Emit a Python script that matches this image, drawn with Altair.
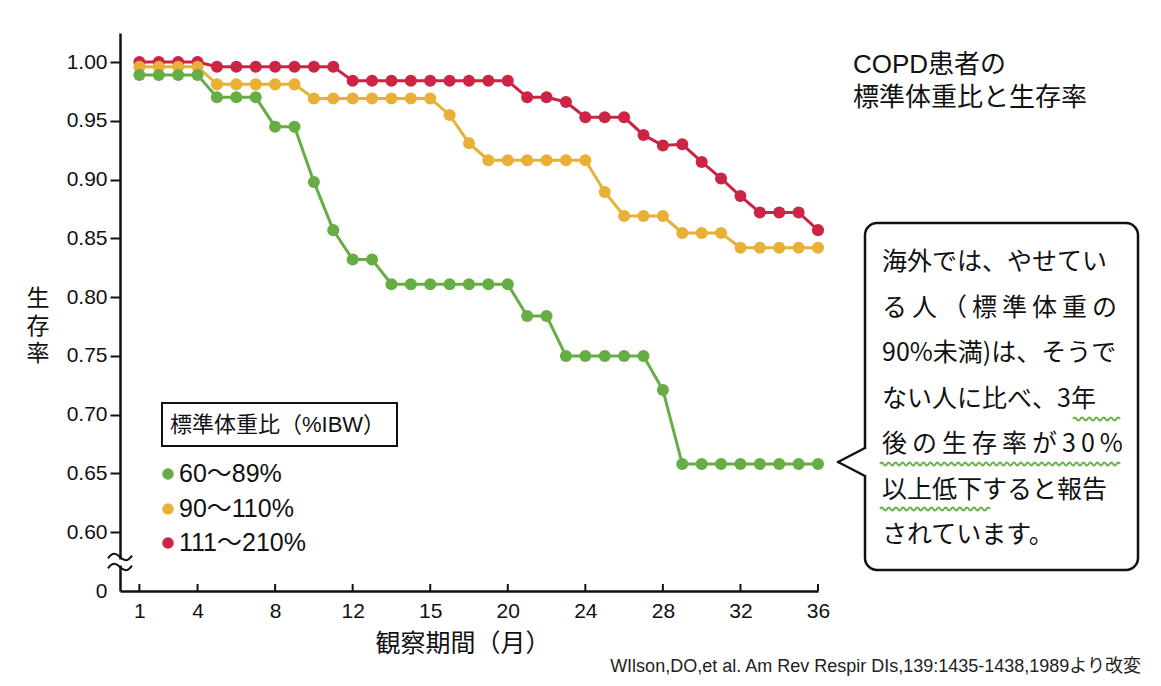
import altair as alt
import pandas as pd

# ---------------- data ----------------
months = list(range(1, 37))
series_names = ["60〜89%", "90〜110%", "111〜210%"]
series_colors = ["#67ad45", "#e8b036", "#cc2445"]

green = [0.989, 0.989, 0.989, 0.989, 0.970, 0.970, 0.970, 0.945, 0.945, 0.898,
         0.857, 0.832, 0.832, 0.811, 0.811, 0.811, 0.811, 0.811, 0.811, 0.811,
         0.784, 0.784, 0.750, 0.750, 0.750, 0.750, 0.750, 0.721, 0.658, 0.658,
         0.658, 0.658, 0.658, 0.658, 0.658, 0.658]
yellow = [0.996, 0.996, 0.996, 0.996, 0.981, 0.981, 0.981, 0.981, 0.981, 0.969,
          0.969, 0.969, 0.969, 0.969, 0.969, 0.969, 0.955, 0.931, 0.9165, 0.9165,
          0.9165, 0.9165, 0.9165, 0.9165, 0.8895, 0.869, 0.869, 0.869, 0.8546, 0.8546,
          0.8546, 0.842, 0.842, 0.842, 0.842, 0.842]
red = [1.000, 1.000, 1.000, 1.000, 0.996, 0.996, 0.996, 0.996, 0.996, 0.996,
       0.996, 0.984, 0.984, 0.984, 0.984, 0.984, 0.984, 0.984, 0.984, 0.984,
       0.970, 0.970, 0.966, 0.953, 0.953, 0.953, 0.938, 0.929, 0.930, 0.915,
       0.901, 0.886, 0.872, 0.872, 0.872, 0.857]

# tick positions (months) and the labels printed at them (the original prints "15" at month 16)
x_tick_pos = [1, 4, 8, 12, 16, 20, 24, 28, 32, 36]
x_tick_labels = ["1", "4", "8", "12", "15", "20", "24", "28", "32", "36"]
y_ticks = [0.55, 0.60, 0.65, 0.70, 0.75, 0.80, 0.85, 0.90, 0.95, 1.00]

title_lines = ["COPD患者の", "標準体重比と生存率"]
x_title = "観察期間（月）"
y_title = ["生", "存", "率"]
legend_title = "標準体重比（%IBW）"
callout_lines = [
    "海外では、やせてい",
    "る\u2009人\u2009（\u2009標\u2009準\u2009体\u2009重\u2009の",
    "90%未満)は、そうで",
    "ない人に比べ、3年",
    "後\u2009の\u2009生\u2009存\u2009率\u2009が\u20093\u20090\u2009%",
    "以上低下すると報告",
    "されています。",
]
source_text = "WIlson,DO,et al. Am Rev Respir DIs,139:1435-1438,1989より改変"

rows = []
for name, vals in [(series_names[2], red), (series_names[1], yellow), (series_names[0], green)]:
    for m, v in zip(months, vals):
        rows.append({"month": m, "survival": v, "group": name})
df = pd.DataFrame(rows)
tick_df = pd.DataFrame({"month": x_tick_pos})
one = pd.DataFrame({"_": [0]})

# ---------------- layout helpers (page px -> plot px) ----------------
OX, OY = 120, 33
W, H = 698, 558


def px(X):
    return X - OX


def py(Y):
    return Y - OY


LATIN = "Liberation Sans, Arial, Noto Sans CJK JP"
CJK = "Noto Sans CJK JP"

x_label_expr = "datum.label"
for p, lab in zip(x_tick_pos, x_tick_labels):
    if str(p) != lab:
        x_label_expr = f"datum.value == {p} ? '{lab}' : (" + x_label_expr + ")"

xscale = alt.Scale(domain=[0, 36], nice=False, zero=False)
yscale = alt.Scale(domain=[0.55, 1.0247], nice=False, zero=False)
cscale = alt.Scale(domain=series_names, range=series_colors)

x_axis = alt.Axis(values=x_tick_pos, labelExpr=x_label_expr, title=None, grid=False, ticks=False,
                  labelFont=LATIN, labelFontSize=21, labelColor="#111",
                  labelPadding=9, labelFlush=False, labelOverlap=False,
                  domainColor="#111", domainWidth=2.5)
y_axis = alt.Axis(values=y_ticks, title=None, grid=False,
                  labelExpr="datum.value < 0.575 ? '0' : format(datum.value, '.2f')",
                  labelFont=LATIN, labelFontSize=21, labelColor="#111",
                  labelPadding=3, tickSize=10, tickWidth=2, tickColor="#111",
                  tickOpacity={"condition": {"test": "datum.value < 0.575", "value": 0}, "value": 1},
                  labelOverlap=False, labelFlush=False,
                  domainColor="#111", domainWidth=2.5)

x_enc = alt.X("month:Q", scale=xscale, axis=x_axis)
y_enc = alt.Y("survival:Q", scale=yscale, axis=y_axis)
c_enc = alt.Color("group:N", scale=cscale, legend=None)

lines = alt.Chart(df).mark_line(strokeWidth=3).encode(
    x=x_enc, y=y_enc, color=c_enc, detail="group:N")
points = alt.Chart(df).mark_circle(size=145, opacity=1).encode(
    x=x_enc, y=y_enc, color=c_enc)
xticks = alt.Chart(tick_df).mark_rule(color="#111", strokeWidth=2).encode(
    x=x_enc, y=alt.value(H), y2=alt.value(H - 7))


def text(s, X, Y, size, font=CJK, align="left", baseline="middle", color="#111", **kw):
    return alt.Chart(one).mark_text(text=s, font=font, fontSize=size, align=align,
                                    baseline=baseline, color=color, **kw).encode(
        x=alt.value(px(X)), y=alt.value(py(Y)))


def rect(X1, Y1, X2, Y2, **kw):
    return alt.Chart(one).mark_rect(**kw).encode(
        x=alt.value(px(X1)), x2=alt.value(px(X2)),
        y=alt.value(py(Y1)), y2=alt.value(py(Y2)))


def rule(X1, Y1, X2, Y2, **kw):
    return alt.Chart(one).mark_rule(**kw).encode(
        x=alt.value(px(X1)), x2=alt.value(px(X2)),
        y=alt.value(py(Y1)), y2=alt.value(py(Y2)))


def wave_path(width, period=7.0, amp=1.5):
    half = width / 2.0
    n = max(2, int(round(width / (period / 2.0))))
    step = 2.0 / n
    h = amp / half
    parts = ["M-1,0", f"Q{-1 + step / 2:.4f},{-2 * h:.4f} {-1 + step:.4f},0"]
    for i in range(2, n + 1):
        parts.append(f"T{-1 + i * step:.4f},0")
    return " ".join(parts)


def wave(X1, X2, Y, color="#6ab04a"):
    w = X2 - X1
    return alt.Chart(one).mark_point(shape=wave_path(w), filled=False, stroke=color,
                                     strokeWidth=2, size=w * w, opacity=1).encode(
        x=alt.value(px((X1 + X2) / 2)), y=alt.value(py(Y)))


tilde_shape = "M-1,0.12 C-0.6,-0.45 -0.3,-0.3 0,0 C0.3,0.3 0.6,0.45 1,-0.12"


def tilde(Xc, Y):
    return alt.Chart(one).mark_point(shape=tilde_shape, filled=False, stroke="#111",
                                     strokeWidth=2, size=24 * 24, opacity=1).encode(
        x=alt.value(px(Xc)), y=alt.value(py(Y)))


layers = [lines, points, xticks]

# axis break
layers.append(rect(116, 559.5, 125, 565.5, fill="white", stroke=None))
layers.append(tilde(120, 557))
layers.append(tilde(120, 567))

# title
layers.append(text(title_lines[0], 853, 65, 26, font=LATIN))
layers.append(text(title_lines[1], 853, 98, 26, font=LATIN))

# axis titles (one character per line)
for i, ch in enumerate(y_title):
    layers.append(text(ch, 38, 299 + 27.5 * i, 23, align="center"))
layers.append(text(x_title, 463, 644, 25, align="center"))

# legend
layers.append(rect(162, 403, 397, 446, fill="white", stroke="#111", strokeWidth=2))
layers.append(text(legend_title, 170, 425, 22, font=LATIN))
for i, (nm, colr) in enumerate(zip(series_names, series_colors)):
    Y = [474, 509, 543][i]
    layers.append(alt.Chart(one).mark_circle(size=135, color=colr, opacity=1).encode(
        x=alt.value(px(168)), y=alt.value(py(Y))))
    layers.append(text(nm, 179, Y, 25, font=LATIN))

# callout
layers.append(rect(865, 223, 1138, 570, fill="white", stroke="#111", strokeWidth=2.5,
                   cornerRadius=12))
layers.append(rect(862, 449, 868, 475, fill="white", stroke=None))
layers.append(rule(865, 448, 838, 462, color="#111", strokeWidth=2.5, strokeCap="round"))
layers.append(rule(838, 462, 865, 476, color="#111", strokeWidth=2.5, strokeCap="round"))
for i, ln in enumerate(callout_lines):
    layers.append(text(ln, 882, 262 + 45.5 * i, 25))
layers.append(wave(1073, 1120, 419))
layers.append(wave(880, 1120, 464))
layers.append(wave(880, 990, 509))

# source
layers.append(text(source_text, 1141, 667, 18,
                    font="Liberation Sans Narrow, Liberation Sans, Noto Sans CJK JP",
                    align="right", color="#222"))

chart = alt.layer(*layers).properties(
    width=W, height=H,
    autosize=alt.AutoSizeParams(type="none"),
    padding={"left": 112, "top": 25, "right": 335, "bottom": 87},
    background="white",
).configure_view(stroke=None)

chart.save("out.html", embed_options={"renderer": "svg", "actions": False})
